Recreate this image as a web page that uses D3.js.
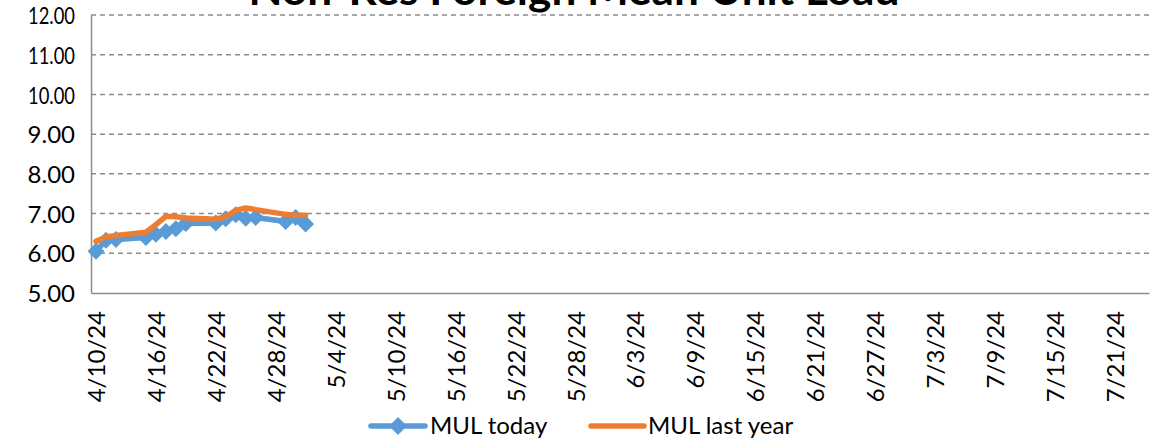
<!DOCTYPE html>
<html>
<head>
<meta charset="utf-8">
<script src="https://cdn.jsdelivr.net/npm/d3@7"></script>
<style>
  body { margin: 0; background: #fff; }
  text { font-family: Lato, "Open Sans", sans-serif; fill: #000; }
</style>
</head>
<body>
<div id="chart"></div>
<script>
// chart data
var dates = ["4/10/24", "4/11/24", "4/12/24", "4/15/24", "4/16/24", "4/17/24", "4/18/24", "4/19/24",
    "4/22/24", "4/23/24", "4/24/24", "4/25/24", "4/26/24", "4/29/24", "4/30/24", "5/1/24"];
var mulToday = [6.05, 6.33, 6.35, 6.40, 6.48, 6.55, 6.62, 6.75,
    6.76, 6.87, 6.97, 6.88, 6.90, 6.80, 6.90, 6.74];
var mulLastYear = [6.30, 6.41, 6.45, 6.53, 6.72, 6.93, 6.92, 6.89,
    6.86, 6.92, 7.08, 7.14, 7.10, 6.98, 6.96, 6.96];
var xTickLabels = ["4/10/24", "4/16/24", "4/22/24", "4/28/24", "5/4/24", "5/10/24", "5/16/24", "5/22/24",
    "5/28/24", "6/3/24", "6/9/24", "6/15/24", "6/21/24", "6/27/24", "7/3/24", "7/9/24", "7/15/24", "7/21/24"];
var yTicks = [5, 6, 7, 8, 9, 10, 11, 12];
var axisStart = "4/10/24", axisEnd = "7/24/24";

var svgWidth = 1156;
var svgHeight = 443;
var margin = { top: 15, right: 7, bottom: 150, left: 91 };
var chartWidth = svgWidth - margin.left - margin.right;
var chartHeight = svgHeight - margin.top - margin.bottom;

var parseDate = d3.timeParse("%m/%d/%y");
var dayMs = 24 * 3600 * 1000;

var svg = d3.select("#chart")
    .append("svg")
    .attr("width", svgWidth)
    .attr("height", svgHeight);

var chartGroup = svg.append("g")
    .attr("transform", `translate(${margin.left}, ${margin.top})`);

// date axis, each day sits in the middle of its slot
var xScale = d3.scaleTime()
    .domain([new Date(+parseDate(axisStart) - dayMs / 2), new Date(+parseDate(axisEnd) + dayMs / 2)])
    .range([0, chartWidth]);

var yScale = d3.scaleLinear()
    .domain([5, 12])
    .range([chartHeight, 0]);

// gridlines
chartGroup.selectAll(".grid")
    .data(yTicks.slice(1))
    .enter()
    .append("line")
    .attr("x1", 0)
    .attr("x2", chartWidth)
    .attr("y1", d => yScale(d))
    .attr("y2", d => yScale(d))
    .attr("stroke", "#8c8c8c")
    .attr("stroke-width", 1.5)
    .attr("stroke-dasharray", "5,4");

// y axis
var yAxis = d3.axisLeft(yScale).tickValues(yTicks).tickFormat(d3.format(".2f")).tickSize(0).tickPadding(16);
var yG = chartGroup.append("g").call(yAxis);
yG.select(".domain").attr("stroke", "#8c8c8c").attr("stroke-width", 1.5);
yG.selectAll("text")
    .style("font-size", "24px")
    .style("font-family", "Lato, sans-serif")
    .attr("dy", "0.36em")
    // the two-digit labels are squeezed in the original
    .each(function(d) {
        if (d >= 10) d3.select(this).attr("textLength", 47).attr("lengthAdjust", "spacingAndGlyphs");
    });

// x axis
var xAxis = d3.axisBottom(xScale)
    .tickValues(xTickLabels.map(parseDate))
    .tickFormat(d => (d.getMonth() + 1) + "/" + d.getDate() + "/" + String(d.getFullYear()).slice(2))
    .tickSize(0);
var xG = chartGroup.append("g")
    .attr("transform", `translate(0, ${chartHeight})`)
    .call(xAxis);
xG.select(".domain").attr("stroke", "#8c8c8c").attr("stroke-width", 1.5);
xG.selectAll("text")
    .style("font-size", "24px")
    .style("font-family", "Lato, sans-serif")
    .attr("text-anchor", "end")
    .attr("dy", null)
    .attr("y", 0)
    .attr("transform", "translate(9, 18) rotate(-90)");

var series = dates.map(function(d, i) {
    return { date: parseDate(d), today: mulToday[i], last: mulLastYear[i] };
});

// square diamond like the excel marker
function diamondPath(r) {
    return `M0,${-r}L${r},0L0,${r}L${-r},0Z`;
}

// today line with diamonds
var lineToday = d3.line().x(d => xScale(d.date)).y(d => yScale(d.today));
chartGroup.append("path")
    .datum(series)
    .attr("d", lineToday)
    .attr("fill", "none")
    .attr("stroke", "#5b9bd5")
    .attr("stroke-width", 5.5)
    .attr("stroke-linejoin", "round")
    .attr("stroke-linecap", "round");

chartGroup.selectAll(".marker")
    .data(series)
    .enter()
    .append("path")
    .attr("d", diamondPath(8.5))
    .attr("transform", d => `translate(${xScale(d.date)}, ${yScale(d.today)})`)
    .attr("fill", "#5b9bd5");

// last year line
var lineLast = d3.line().x(d => xScale(d.date)).y(d => yScale(d.last));
chartGroup.append("path")
    .datum(series)
    .attr("d", lineLast)
    .attr("fill", "none")
    .attr("stroke", "#ed7d31")
    .attr("stroke-width", 5.5)
    .attr("stroke-linejoin", "round")
    .attr("stroke-linecap", "round");

// title (top is cut off like in the original)
svg.append("text")
    .attr("x", 574)
    .attr("y", 5)
    .attr("text-anchor", "middle")
    .attr("textLength", 651)
    .attr("lengthAdjust", "spacingAndGlyphs")
    .style("font-size", "42px")
    .style("font-weight", "bold")
    .text("Non-Res Foreign Mean Unit Load");

// legend
var legend = svg.append("g").attr("transform", "translate(0, 426)");
legend.append("line")
    .attr("x1", 371).attr("x2", 425).attr("y1", 0).attr("y2", 0)
    .attr("stroke", "#5b9bd5").attr("stroke-width", 5.5).attr("stroke-linecap", "round");
legend.append("path")
    .attr("d", diamondPath(9))
    .attr("transform", "translate(398, 0)")
    .attr("fill", "#5b9bd5");
legend.append("text")
    .attr("x", 430).attr("y", 8)
    .style("font-size", "24px")
    .text("MUL today");
legend.append("line")
    .attr("x1", 591).attr("x2", 644).attr("y1", 0).attr("y2", 0)
    .attr("stroke", "#ed7d31").attr("stroke-width", 5.5).attr("stroke-linecap", "round");
legend.append("text")
    .attr("x", 648).attr("y", 8)
    .style("font-size", "24px")
    .text("MUL last year");
</script>
</body>
</html>
